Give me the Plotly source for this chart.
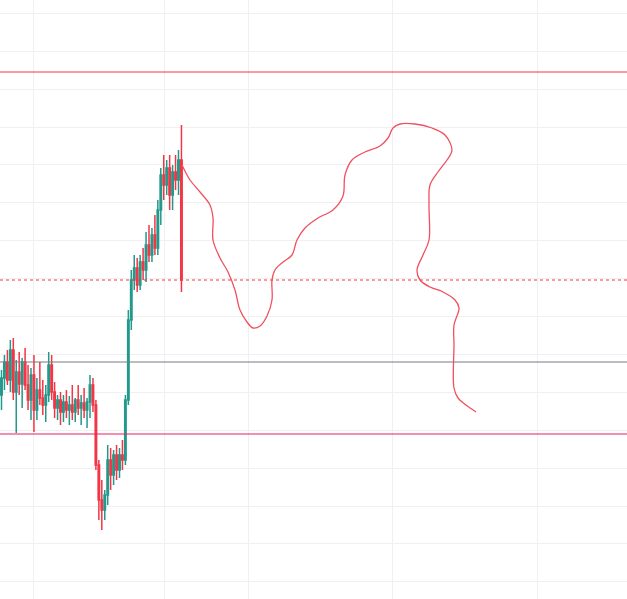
import plotly.graph_objects as go

# candle positions (screen-like units) and OHLC in a reversed price scale
candle_x = [1.5 + 2.95 * i for i in range(62)]
opens = [395, 378, 362, 380, 350, 392, 372, 384, 362, 385, 400, 375, 410, 390, 398, 405,
         395, 365, 392, 408, 400, 412, 402, 410, 405, 412, 400, 408, 403, 410, 402, 385,
         405, 465, 500, 510, 495, 460, 475, 455, 470, 455, 460, 400, 320, 280, 268, 285,
         262, 270, 245, 255, 235, 248, 210, 175, 185, 168, 195, 172, 180, 160]
highs = [370, 355, 350, 340, 338, 360, 352, 358, 348, 365, 368, 355, 378, 362, 380, 385,
         352, 355, 382, 395, 392, 395, 390, 396, 385, 398, 385, 395, 388, 398, 375, 378,
         400, 460, 480, 490, 445, 448, 450, 445, 448, 440, 395, 310, 270, 255, 258, 255,
         248, 232, 225, 228, 215, 200, 168, 155, 160, 155, 165, 155, 150, 125]
lows = [410, 390, 385, 392, 400, 433, 395, 408, 390, 410, 420, 432, 420, 405, 415, 422,
        402, 400, 418, 420, 425, 422, 418, 425, 420, 422, 415, 425, 418, 428, 418, 412,
        470, 520, 530, 520, 505, 490, 485, 480, 478, 470, 465, 405, 330, 290, 292, 290,
        280, 282, 262, 262, 255, 255, 225, 200, 195, 210, 210, 190, 195, 292]
closes = [378, 362, 380, 350, 392, 372, 384, 362, 385, 400, 375, 410, 390, 398, 405, 395,
          365, 392, 408, 400, 412, 402, 410, 405, 412, 400, 408, 403, 410, 402, 385, 405,
          465, 500, 510, 495, 460, 475, 455, 470, 455, 460, 400, 320, 280, 268, 285, 262,
          270, 245, 255, 235, 248, 210, 175, 185, 168, 195, 172, 180, 160, 280]

# freehand drawing path
draw_x = [182, 190, 200, 210, 213, 213, 220, 228, 235, 240, 247, 253, 260, 267, 272, 272,
          275, 283, 292, 297, 305, 318, 333, 343, 345, 352, 365, 380, 388, 393, 400, 415,
          432, 445, 452, 447, 438, 430, 429, 429, 423, 417, 420, 430, 443, 455, 459, 454,
          454, 454, 458, 466, 476]
draw_y = [165, 180, 192, 205, 218, 240, 258, 272, 290, 310, 322, 328, 326, 316, 300, 280,
          270, 262, 255, 240, 228, 218, 210, 196, 175, 160, 152, 146, 138, 128, 124, 124,
          128, 135, 150, 160, 172, 185, 205, 240, 255, 270, 280, 287, 292, 300, 308, 325,
          345, 388, 398, 405, 412]

level_top = 72
level_dotted = 280
level_grey = 362
level_pink = 434

grid_y = [13, 51, 89, 127, 164, 202, 240, 278, 316, 354, 392, 430, 468, 506, 543, 581]
grid_x = [33, 164, 248, 392, 537]

fig = go.Figure()
fig.add_trace(go.Candlestick(
    x=candle_x, open=opens, high=highs, low=lows, close=closes,
    increasing=dict(line=dict(color="#f23645", width=1.5), fillcolor="#f23645"),
    decreasing=dict(line=dict(color="#22998a", width=1.5), fillcolor="#22998a"),
    whiskerwidth=0,
    showlegend=False,
    hoverinfo="skip",
))
fig.add_trace(go.Scatter(
    x=draw_x, y=draw_y, mode="lines",
    line=dict(color="#f0505f", width=1.3, shape="spline"),
    showlegend=False, hoverinfo="skip",
))

fig.add_hline(y=level_top, line=dict(color="#f23645", width=1))
fig.add_hline(y=level_dotted, line=dict(color="#f23645", width=1, dash="dot"))
fig.add_hline(y=level_grey, line=dict(color="#787b86", width=1))
fig.add_hline(y=level_pink, line=dict(color="#e91e63", width=1))

fig.update_layout(
    width=627, height=599,
    margin=dict(l=0, r=0, t=0, b=0),
    plot_bgcolor="white", paper_bgcolor="white",
    xaxis=dict(range=[0, 627], tickvals=grid_x, showticklabels=False,
               gridcolor="#f0f0f0", zeroline=False, rangeslider=dict(visible=False)),
    yaxis=dict(range=[599, 0], tickvals=grid_y, showticklabels=False,
               gridcolor="#f0f0f0", zeroline=False),
)

# drop the default page margin so the chart fills the window
fig.write_html("out.html", config={"displayModeBar": False},
               post_script="document.body.style.margin='0';")
